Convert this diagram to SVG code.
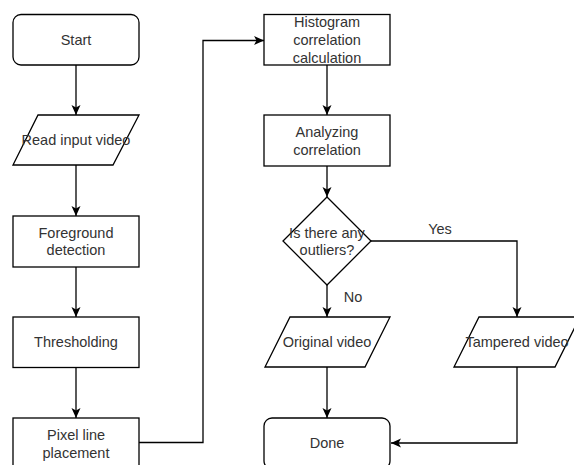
<svg xmlns="http://www.w3.org/2000/svg" width="574" height="465" viewBox="0 0 574 465">
<style>
.s{fill:#fff;stroke:#000;stroke-width:1.3}
.t{font-family:"Liberation Sans",Arial,sans-serif;font-size:14.5px;fill:#333;text-anchor:middle;dominant-baseline:central}
.e{fill:none;stroke:#000;stroke-width:1.3;marker-end:url(#a)}
</style>
<defs>
<marker id="a" markerUnits="userSpaceOnUse" markerWidth="12" markerHeight="10" refX="10" refY="4.5" orient="auto" viewBox="0 0 12 10">
<path d="M0,0 L10,4.5 L0,9 L2.5,4.5 Z" fill="#000"/>
</marker>
</defs>
<rect width="574" height="465" fill="#fff"/>
<g id="edges">
<path class="e" d="M76,65 V115"/>
<path class="e" d="M76,165 V216"/>
<path class="e" d="M76,267 V317"/>
<path class="e" d="M76,367 V418"/>
<path class="e" d="M139,442.5 H203 V40.5 H264"/>
<path class="e" d="M327,65 V115"/>
<path class="e" d="M327,166 V197"/>
<path class="e" d="M327,285 V317"/>
<path class="e" d="M371,241 H517 V317"/>
<path class="e" d="M327,367 V418"/>
<path class="e" d="M517,367 V443 H391"/>
<text class="t" x="353" y="297">No</text>
<text class="t" x="440" y="229">Yes</text>
</g>
<g id="start"><rect class="s" x="13" y="14.5" width="126" height="50.5" rx="8"/><text class="t" x="76" y="40">Start</text></g>
<g id="read"><path class="s" d="M38,115 H139 L113,165 H13 Z"/><text class="t" x="76" y="140">Read input video</text></g>
<g id="foreground"><rect class="s" x="13" y="216" width="126" height="51"/><text class="t" x="76" y="232.5">Foreground</text><text class="t" x="76" y="250">detection</text></g>
<g id="thresholding"><rect class="s" x="13" y="317" width="126" height="50.5"/><text class="t" x="76" y="342">Thresholding</text></g>
<g id="pixel"><rect class="s" x="13" y="418" width="126" height="51"/><text class="t" x="76" y="435">Pixel line</text><text class="t" x="76" y="452.5">placement</text></g>
<g id="histogram"><rect class="s" x="264" y="14.5" width="126" height="50.5"/><text class="t" x="327" y="22">Histogram</text><text class="t" x="327" y="40">correlation</text><text class="t" x="327" y="58">calculation</text></g>
<g id="analyzing"><rect class="s" x="264" y="115" width="126" height="51"/><text class="t" x="327" y="132">Analyzing</text><text class="t" x="327" y="149.5">correlation</text></g>
<g id="decision"><path class="s" d="M327,197 L371,241 L327,285 L283,241 Z"/><text class="t" x="327" y="232.5">Is there any</text><text class="t" x="327" y="250">outliers?</text></g>
<g id="original"><path class="s" d="M290,317 H390 L365,367 H265 Z"/><text class="t" x="327" y="342">Original video</text></g>
<g id="tampered"><path class="s" d="M479,317 H580 L555,367 H454 Z"/><text class="t" x="517" y="342">Tampered video</text></g>
<g id="done"><rect class="s" x="264" y="418" width="126" height="51" rx="8"/><text class="t" x="327" y="443">Done</text></g>
</svg>
